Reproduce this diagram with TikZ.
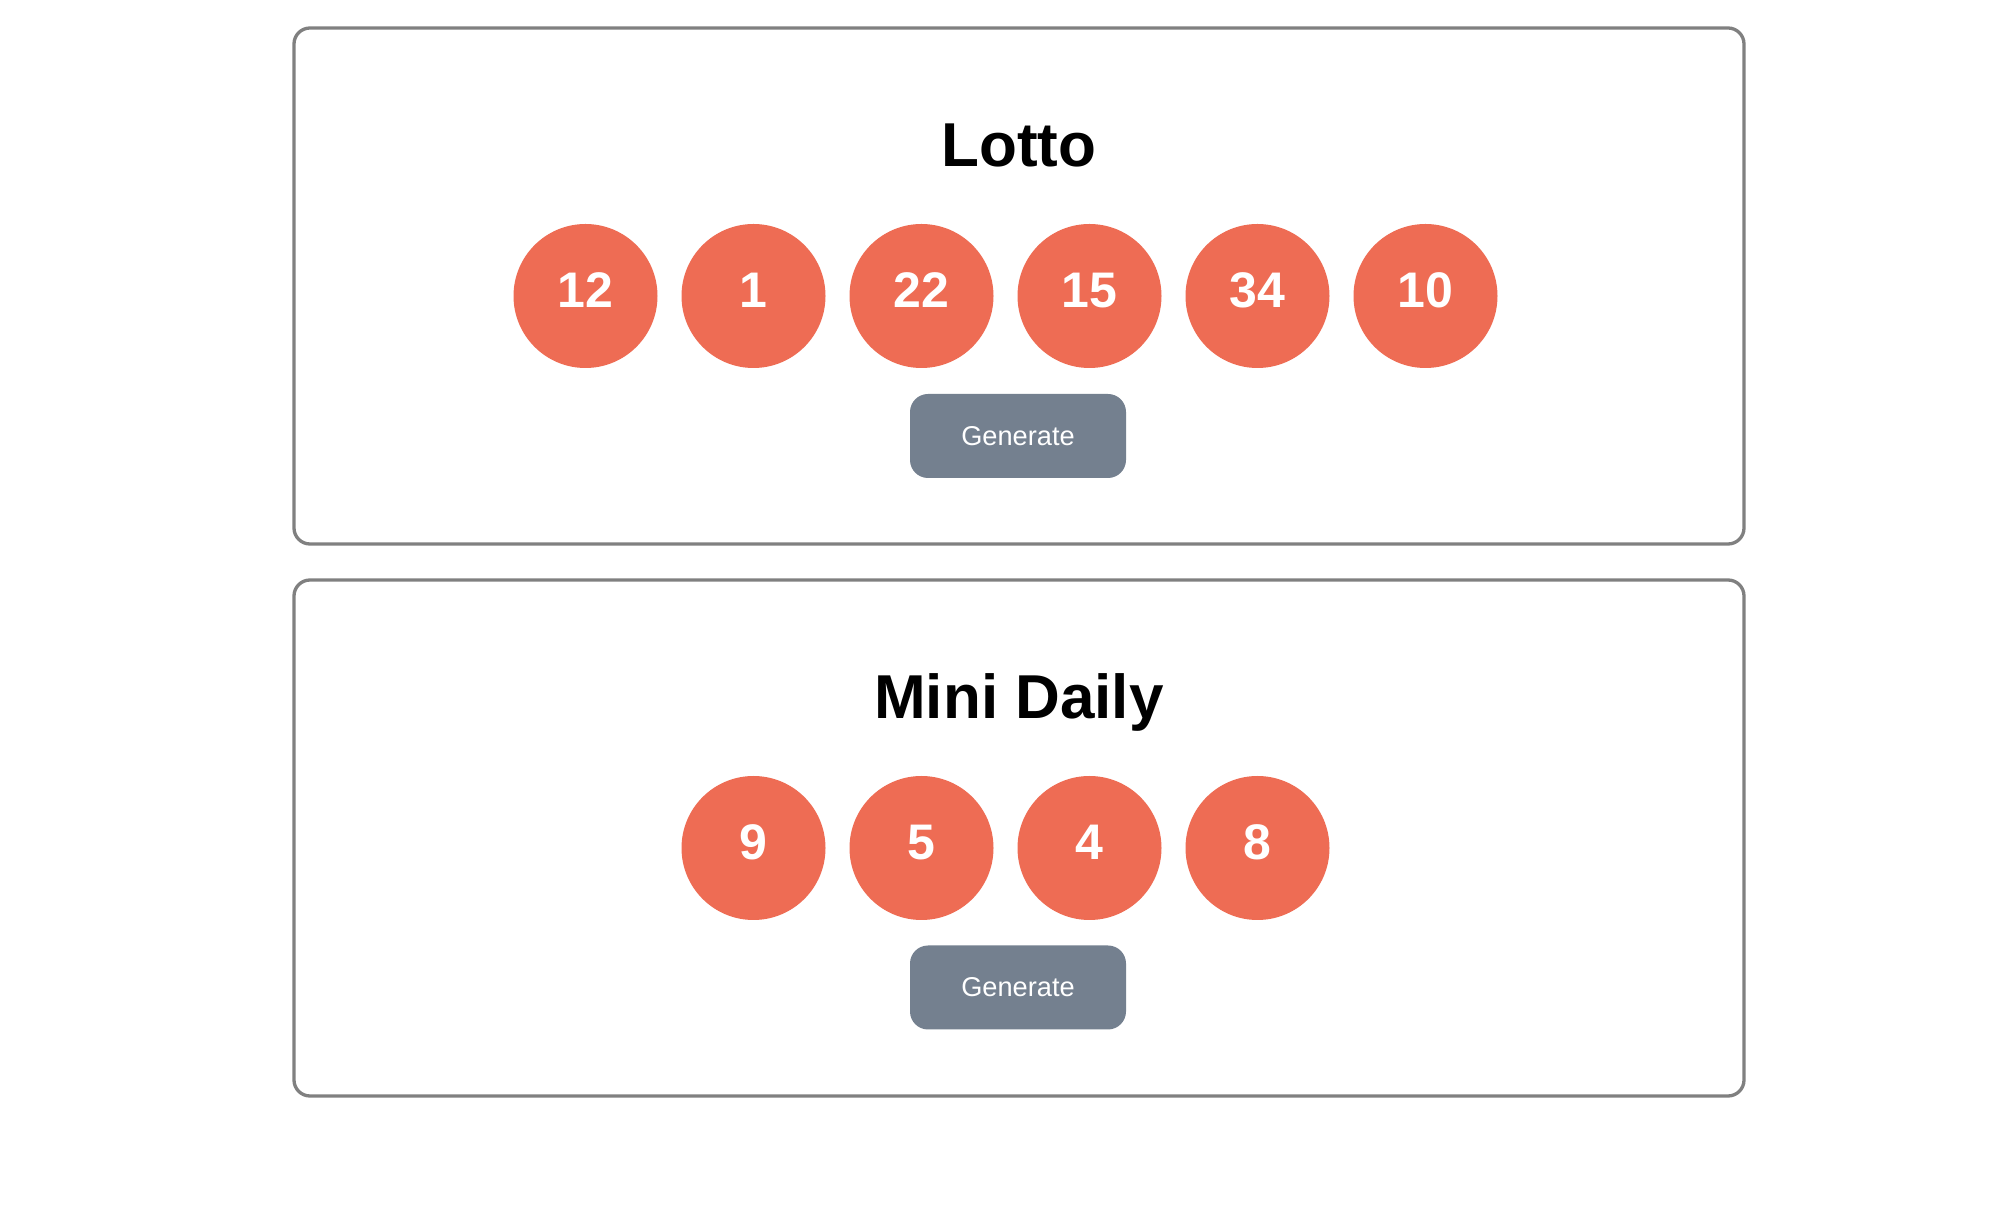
\documentclass[tikz,border=0pt]{standalone}
\usepackage{fontspec}
\setmainfont{Liberation Sans}
\definecolor{ballred}{RGB}{238,108,84}
\definecolor{btnslate}{RGB}{116,128,143}
\definecolor{cardgray}{RGB}{128,128,128}
\tikzset{
	card/.style={draw=cardgray, line width=1.65pt, rounded corners=8pt},
	ball/.style={circle, fill=ballred, minimum size=72pt, inner sep=0pt},
	balltext/.style={anchor=base, text=white, inner sep=0pt, font=\bfseries\fontsize{25}{30}\selectfont},
	cardtitle/.style={anchor=base, inner sep=0pt, font=\bfseries\fontsize{31}{38}\selectfont},
	genbutton/.style={fill=btnslate, text=white, rounded corners=9pt, minimum width=108pt, minimum height=42pt, inner sep=0pt, font=\fontsize{13.6}{16}\selectfont}}
\tikzset{every picture/.style={line width=0.75pt}}

\begin{document}
\begin{tikzpicture}[x=0.5pt,y=0.5pt,yscale=-1,xscale=1]
\useasboundingbox (0,0) rectangle (1994,1218);
\fill[white] (0,0) rectangle (1994,1218);

%Rounded Rect: Lotto card
\draw[card] (294,28) rectangle (1744,544);
%Rounded Rect: Mini Daily card
\draw[card] (294,580) rectangle (1744,1096);

% Text Node
\node[cardtitle] (lottotitle) at (1019,167) {Lotto};
% Text Node
\node[cardtitle] (minititle) at (1019,719) {Mini Daily};

%Shape: Circle
\node[ball] (lotto1) at (585.5,296) {};
\node[ball] (lotto2) at (753.5,296) {};
\node[ball] (lotto3) at (921.5,296) {};
\node[ball] (lotto4) at (1089.5,296) {};
\node[ball] (lotto5) at (1257.5,296) {};
\node[ball] (lotto6) at (1425.5,296) {};
% Text Node
\node[balltext] (lotto1n) at ([yshift=6pt]lotto1.center) {12};
\node[balltext] (lotto2n) at ([yshift=6pt]lotto2.center) {1};
\node[balltext] (lotto3n) at ([yshift=6pt]lotto3.center) {22};
\node[balltext] (lotto4n) at ([yshift=6pt]lotto4.center) {15};
\node[balltext] (lotto5n) at ([yshift=6pt]lotto5.center) {34};
\node[balltext] (lotto6n) at ([yshift=6pt]lotto6.center) {10};

%Shape: Circle
\node[ball] (mini1) at (753.5,848) {};
\node[ball] (mini2) at (921.5,848) {};
\node[ball] (mini3) at (1089.5,848) {};
\node[ball] (mini4) at (1257.5,848) {};
% Text Node
\node[balltext] (mini1n) at ([yshift=6pt]mini1.center) {9};
\node[balltext] (mini2n) at ([yshift=6pt]mini2.center) {5};
\node[balltext] (mini3n) at ([yshift=6pt]mini3.center) {4};
\node[balltext] (mini4n) at ([yshift=6pt]mini4.center) {8};

%Rounded Rect: buttons
\node[genbutton] (lottogen) at (1018,436) {Generate};
\node[genbutton] (minigen) at (1018,987.5) {Generate};

\end{tikzpicture}
\end{document}
